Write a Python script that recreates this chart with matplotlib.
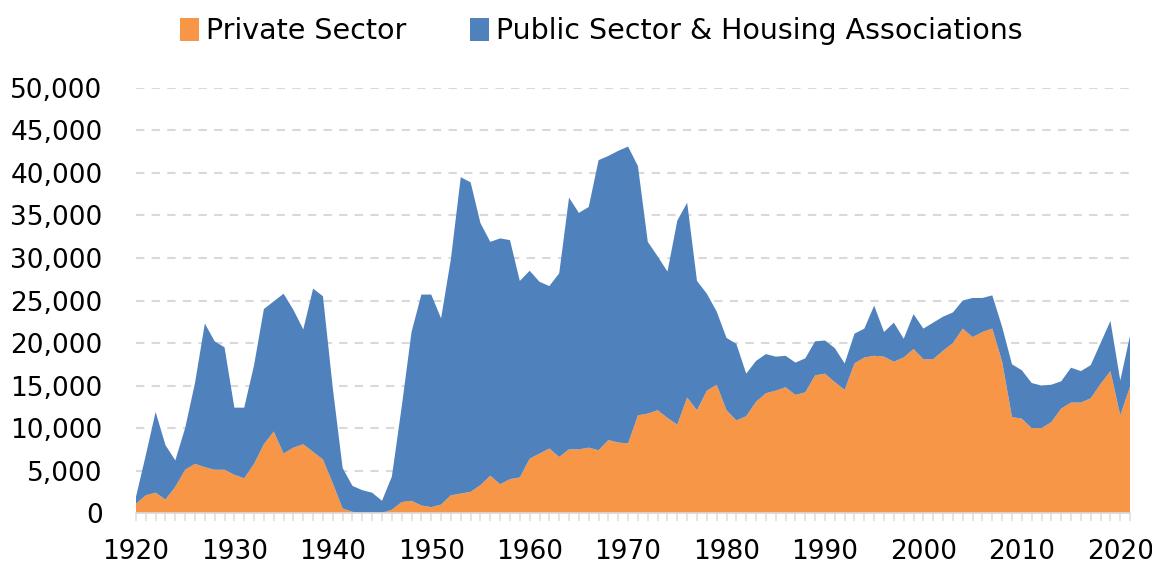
import matplotlib
matplotlib.use("Agg")
import matplotlib.pyplot as plt
from matplotlib.ticker import FuncFormatter, MultipleLocator
from matplotlib.patches import Patch

years = list(range(1920, 2022))

private = [
    1.1, 2.1, 2.4, 1.6, 3.1, 5.1, 5.8, 5.4, 5.1, 5.1,      # 1920s
    4.5, 4.1, 5.8, 8.1, 9.6, 7.0, 7.7, 8.1, 7.2, 6.3,      # 1930s
    3.5, 0.55, 0.15, 0.05, 0.1, 0.05, 0.4, 1.3, 1.45, 0.9,  # 1940s
    0.7, 1.0, 2.1, 2.3, 2.5, 3.3, 4.4, 3.4, 4.0, 4.2,      # 1950s
    6.4, 7.0, 7.6, 6.6, 7.5, 7.5, 7.7, 7.4, 8.6, 8.3,      # 1960s
    8.2, 11.5, 11.7, 12.1, 11.2, 10.4, 13.6, 12.1, 14.4, 15.1,  # 1970s
    12.1, 10.9, 11.4, 13.1, 14.1, 14.4, 14.8, 13.9, 14.2, 16.2,  # 1980s
    16.4, 15.4, 14.5, 17.6, 18.3, 18.5, 18.4, 17.8, 18.3, 19.3,  # 1990s
    18.1, 18.1, 19.1, 20.0, 21.7, 20.7, 21.3, 21.7, 17.8, 11.3,  # 2000s
    11.1, 10.0, 10.0, 10.7, 12.3, 13.0, 13.0, 13.5, 15.2, 16.7,  # 2010s
    11.5, 14.9,
]

total = [
    1.9, 6.8, 11.9, 8.0, 6.2, 10.0, 15.3, 22.3, 20.2, 19.5,
    12.4, 12.4, 17.4, 24.0, 24.9, 25.8, 23.9, 21.6, 26.4, 25.5,
    14.7, 5.3, 3.2, 2.7, 2.4, 1.45, 4.3, 12.5, 21.3, 25.7,
    25.7, 22.9, 29.9, 39.5, 38.9, 34.1, 31.9, 32.3, 32.1, 27.3,
    28.5, 27.2, 26.7, 28.2, 37.1, 35.3, 36.0, 41.5, 42.0, 42.6,
    43.1, 40.8, 31.9, 30.2, 28.4, 34.4, 36.5, 27.3, 25.8, 23.7,
    20.6, 19.9, 16.4, 17.9, 18.7, 18.4, 18.5, 17.7, 18.2, 20.2,
    20.3, 19.4, 17.6, 21.1, 21.7, 24.4, 21.3, 22.4, 20.5, 23.4,
    21.7, 22.4, 23.1, 23.6, 25.0, 25.3, 25.3, 25.6, 21.9, 17.5,
    16.8, 15.3, 15.0, 15.1, 15.5, 17.1, 16.7, 17.4, 20.0, 22.6,
    15.6, 20.9,
]

private = [v * 1000 for v in private]
public = [t * 1000 - p for t, p in zip(total, private)]

labels = ["Private Sector", "Public Sector & Housing Associations"]
colors = ["#F79646", "#4F81BD"]

fig = plt.figure(figsize=(11.52, 5.67), dpi=100)
ax = fig.add_axes([0.118, 0.095, 0.863, 0.75])

ax.stackplot(years, private, public, colors=colors, linewidth=0)

ax.set_xlim(1920, 2021)
ax.set_ylim(0, 50000)
ax.yaxis.set_major_locator(MultipleLocator(5000))
ax.yaxis.set_major_formatter(FuncFormatter(lambda v, p: f"{int(v):,}"))
ax.xaxis.set_major_locator(MultipleLocator(10))
ax.xaxis.set_minor_locator(MultipleLocator(1))

ax.grid(axis="y", color="#d9d9d9", linestyle=(0, (4, 3.5)), linewidth=1.5)
ax.set_axisbelow(True)

for s in ["top", "right", "left"]:
    ax.spines[s].set_visible(False)
ax.spines["bottom"].set_color("#d9d9d9")
ax.spines["bottom"].set_linewidth(1.2)
ax.spines["bottom"].set_zorder(5)

ax.tick_params(axis="y", length=0, pad=24, labelsize=19)
ax.tick_params(axis="x", which="both", length=5.5, color="#dcdcdc", width=1.1, direction="out")
ax.tick_params(axis="x", which="major", pad=13, labelsize=19)

handles = [Patch(facecolor=c, edgecolor="none") for c in colors]
fig.legend(handles, labels, loc="upper center", bbox_to_anchor=(0.522, 1.015), ncol=2,
           frameon=False, fontsize=20.5, handlelength=0.65, handleheight=0.85,
           handletextpad=0.25, columnspacing=2.25)

fig.savefig("out.png", dpi=100)
